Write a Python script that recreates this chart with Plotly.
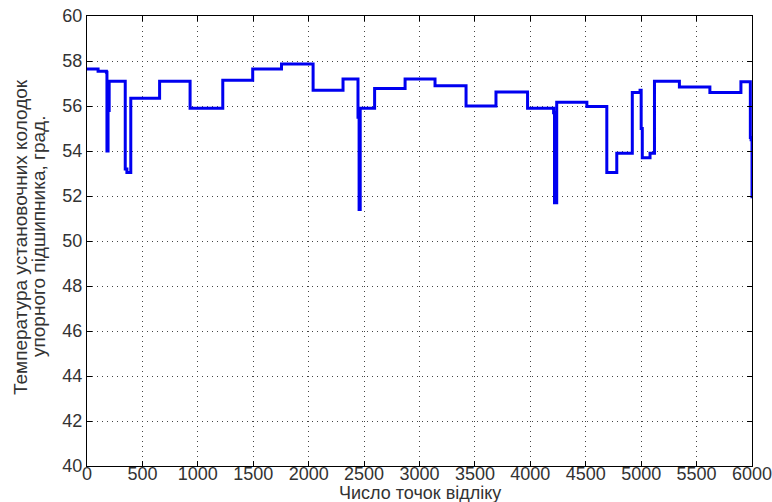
import plotly.graph_objects as go

# step breakpoints (sample index) and temperature level starting at each breakpoint
sample_idx = [0, 100, 175, 180, 190, 200, 345, 360, 395, 655, 930, 1225, 1495, 1755,
              2040, 2310, 2445, 2455, 2465, 2595, 2870, 3140, 3420, 3690, 3975, 4210,
              4218, 4238, 4510, 4690, 4780, 4920, 4990, 5000, 5010, 5080, 5120, 5345,
              5620, 5900, 5985, 5992, 6000]
temperature = [57.65, 57.55, 57.5, 54.0, 55.8, 57.1, 53.2, 53.05, 56.35, 57.1, 55.9, 57.15,
               57.65, 57.87, 56.7, 57.2, 55.5, 51.4, 55.9, 56.78, 57.2, 56.9, 56.0, 56.62,
               55.9, 55.7, 51.7, 56.17, 55.98, 53.05, 53.9, 56.6, 56.7, 55.0, 53.7, 53.9,
               57.1, 56.85, 56.6, 57.08, 54.6, 54.5, 51.9]

x_ticks = [0, 500, 1000, 1500, 2000, 2500, 3000, 3500, 4000, 4500, 5000, 5500, 6000]
y_ticks = [40, 42, 44, 46, 48, 50, 52, 54, 56, 58, 60]

x_title = "Число точок відліку"
y_title_1 = "Температура установочних колодок"
y_title_2 = "упорного підшипника, град."

W, H = 772, 502
ML, MR, MT, MB = 87, 20, 16, 36
plot_h = H - MT - MB

fig = go.Figure()
fig.add_trace(go.Scatter(x=sample_idx, y=temperature, mode="lines",
                         line=dict(color="#0000F0", width=3, shape="hv"),
                         showlegend=False))

narrow = "Liberation Sans Narrow, Liberation Sans, Arial, sans-serif"
regular = "Liberation Sans, Arial, sans-serif"
fsize = 18
txt_color = "#333333"
axis_common = dict(showline=True, linecolor="black", linewidth=1, mirror="ticks",
                   ticks="inside", ticklen=5, tickcolor="black",
                   showgrid=True, gridcolor="#444444", griddash="1px,4px", gridwidth=1,
                   zeroline=False, automargin=False, ticklabeloverflow="allow",
                   tickfont=dict(family=narrow, size=fsize, color=txt_color))

fig.update_layout(
    width=W, height=H,
    margin=dict(l=ML, r=MR, t=MT, b=MB),
    paper_bgcolor="white", plot_bgcolor="white",
    font=dict(family=narrow, size=fsize, color=txt_color),
    xaxis=dict(range=[0, 6000], tickvals=x_ticks, showticklabels=False, **axis_common),
    # label-only companion axis (same scale) so the tick labels sit close under the frame
    xaxis2=dict(range=[0, 6000], matches="x", overlaying="x", anchor="free",
                position=5 / plot_h, side="bottom", tickvals=x_ticks,
                ticktext=[str(v) for v in x_ticks], showline=False, showgrid=False,
                ticks="", zeroline=False, automargin=False, ticklabeloverflow="allow",
                tickfont=dict(family=narrow, size=fsize, color=txt_color)),
    yaxis=dict(range=[40, 60], tickvals=y_ticks, ticktext=[str(v) for v in y_ticks],
               **axis_common),
)
# invisible helper trace to activate the label axis
fig.add_trace(go.Scatter(x=[x_ticks[0]], y=[y_ticks[0]], xaxis="x2", yaxis="y",
                         mode="markers", marker=dict(opacity=0), hoverinfo="skip",
                         showlegend=False))

fig.add_annotation(text=x_title, xref="paper", yref="paper", x=0.5, y=0,
                   xanchor="center", yanchor="middle", yshift=-27, showarrow=False,
                   font=dict(family=narrow, size=fsize, color=txt_color))
fig.add_annotation(text=y_title_1, xref="paper", yref="paper", x=0, y=0.5,
                   xanchor="center", yanchor="middle", xshift=-67, yshift=4,
                   textangle=-90, showarrow=False,
                   font=dict(family=regular, size=19, color=txt_color))
fig.add_annotation(text=y_title_2, xref="paper", yref="paper", x=0, y=0.5,
                   xanchor="center", yanchor="middle", xshift=-49, yshift=4,
                   textangle=-90, showarrow=False,
                   font=dict(family=regular, size=19, color=txt_color))

fig.write_html("out.html", config={"displayModeBar": False},
               post_script="document.body.style.margin='0';")
